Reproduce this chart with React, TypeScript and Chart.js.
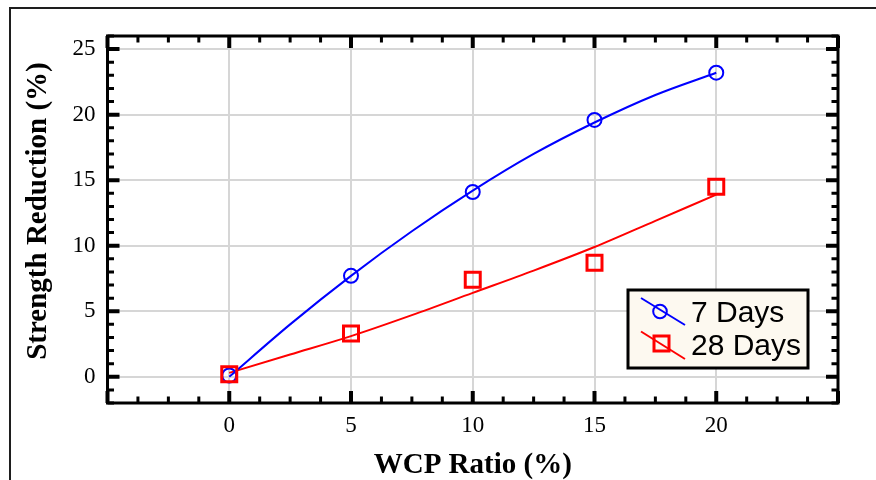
import React, { useEffect, useRef } from "react";
import { Chart, registerables } from "chart.js";

Chart.register(...registerables);

// ---- data ----
const wcpRatio = [0, 5, 10, 15, 20];
const days7 = [0.1, 7.7, 14.1, 19.6, 23.2];
const days28 = [0.2, 3.3, 7.4, 8.7, 14.5];
const fitX = [0, 2.5, 5, 7.5, 10, 12.5, 15, 17.5, 20];
const fit7 = [0.0, 4.0, 7.7, 11.1, 14.2, 17.0, 19.4, 21.5, 23.2];
const fit28 = [0.3, 1.7, 3.1, 4.7, 6.4, 8.1, 9.9, 11.9, 13.9];
const xTickLabels = [0, 5, 10, 15, 20];
const yTickLabels = [0, 5, 10, 15, 20, 25];
const seriesNames = ["7 Days", "28 Days"];
const xTitle = "WCP Ratio (%)";
const yTitle = "Strength Reduction (%)";

const BLUE = "#0000ff";
const RED = "#ff0000";
const SERIF = "'Liberation Serif', 'Times New Roman', serif";
const SANS = "'Liberation Sans', Arial, sans-serif";

const isMajor = (v: number) => Math.abs(v / 5 - Math.round(v / 5)) < 1e-6;

const framePlugin = {
  id: "frameTicks",
  afterDraw(chart: any) {
    const { ctx, chartArea: a, scales } = chart;
    const xs = scales.x;
    const ys = scales.y;
    ctx.save();
    // outer page frame (top and left lines)
    ctx.strokeStyle = "#1e1e1e";
    ctx.lineWidth = 2;
    ctx.beginPath();
    ctx.moveTo(9, 8);
    ctx.lineTo(876, 8);
    ctx.moveTo(10, 7);
    ctx.lineTo(10, 480);
    ctx.stroke();

    ctx.strokeStyle = "#000";
    // x ticks (top & bottom, inward)
    for (const t of xs.ticks) {
      const px = xs.getPixelForValue(t.value);
      const major = isMajor(t.value);
      const len = major ? 12 : 6.5;
      ctx.lineWidth = major ? 4 : 3;
      ctx.beginPath();
      ctx.moveTo(px, a.bottom);
      ctx.lineTo(px, a.bottom - len);
      ctx.moveTo(px, a.top);
      ctx.lineTo(px, a.top + len);
      ctx.stroke();
    }
    for (const t of ys.ticks) {
      const py = ys.getPixelForValue(t.value);
      const major = isMajor(t.value);
      const len = major ? 12 : 6.5;
      ctx.lineWidth = major ? 4 : 3;
      ctx.beginPath();
      ctx.moveTo(a.left, py);
      ctx.lineTo(a.left + len, py);
      ctx.moveTo(a.right, py);
      ctx.lineTo(a.right - len, py);
      ctx.stroke();
    }
    // plot frame
    ctx.lineWidth = 3;
    ctx.strokeRect(a.left, a.top, a.right - a.left, a.bottom - a.top);

    // y axis title
    ctx.save();
    ctx.translate(39, 211);
    ctx.rotate(-Math.PI / 2);
    ctx.fillStyle = "#000";
    ctx.font = `bold 29px ${SERIF}`;
    ctx.textAlign = "center";
    ctx.textBaseline = "middle";
    ctx.fillText(yTitle, 0, 0);
    ctx.restore();

    // legend
    const lx = 628, ly = 290, lw = 180, lh = 78;
    ctx.fillStyle = "#fdf9f0";
    ctx.fillRect(lx, ly, lw, lh);
    ctx.lineWidth = 3;
    ctx.strokeStyle = "#000";
    ctx.strokeRect(lx, ly, lw, lh);

    // entry 1
    ctx.lineWidth = 2;
    ctx.strokeStyle = BLUE;
    ctx.beginPath();
    ctx.moveTo(641, 298);
    ctx.lineTo(685, 325);
    ctx.stroke();
    ctx.beginPath();
    ctx.arc(660, 311.5, 6.8, 0, Math.PI * 2);
    ctx.stroke();
    // entry 2
    ctx.strokeStyle = RED;
    ctx.beginPath();
    ctx.moveTo(641, 331.5);
    ctx.lineTo(685, 359);
    ctx.stroke();
    ctx.lineWidth = 3;
    ctx.strokeRect(654, 336, 15, 15);

    ctx.fillStyle = "#000";
    ctx.font = `30px ${SANS}`;
    ctx.textAlign = "left";
    ctx.textBaseline = "alphabetic";
    ctx.fillText(seriesNames[0], 691, 322);
    ctx.fillText(seriesNames[1], 691, 355);
    ctx.restore();
  },
};

export default function App() {
  const ref = useRef<HTMLCanvasElement>(null);
  useEffect(() => {
    const chart = new Chart(ref.current as HTMLCanvasElement, {
      type: "scatter",
      data: {
        datasets: [
          {
            label: seriesNames[1],
            data: wcpRatio.map((x, i) => ({ x, y: days28[i] })),
            showLine: false,
            pointStyle: "rect",
            pointRadius: 10.6,
            pointBorderWidth: 3,
            pointBorderColor: RED,
            pointBackgroundColor: "rgba(0,0,0,0)",
            borderColor: RED,
            order: 0,
          },
          {
            label: seriesNames[0],
            data: wcpRatio.map((x, i) => ({ x, y: days7[i] })),
            showLine: false,
            pointStyle: "circle",
            pointRadius: 7,
            pointBorderWidth: 2,
            pointBorderColor: BLUE,
            pointBackgroundColor: "rgba(0,0,0,0)",
            borderColor: BLUE,
            order: 1,
          },
          {
            label: seriesNames[0] + " fit",
            data: fitX.map((x, i) => ({ x, y: fit7[i] })),
            showLine: true,
            pointRadius: 0,
            borderColor: BLUE,
            borderWidth: 2,
            cubicInterpolationMode: "monotone",
            order: 2,
          },
          {
            label: seriesNames[1] + " fit",
            data: fitX.map((x, i) => ({ x, y: fit28[i] })),
            showLine: true,
            pointRadius: 0,
            borderColor: RED,
            borderWidth: 2,
            cubicInterpolationMode: "monotone",
            order: 3,
          },
        ] as any,
      },
      options: {
        animation: false,
        responsive: false,
        layout: { padding: { left: 0, top: 36, right: 38, bottom: 0 } },
        plugins: {
          legend: { display: false },
          tooltip: { enabled: false },
        },
        scales: {
          x: {
            type: "linear",
            min: -5,
            max: 25,
            afterFit: (s: any) => {
              s.height = 77;
            },
            border: { display: false },
            grid: {
              drawTicks: false,
              lineWidth: 2,
              color: (c: any) =>
                c.tick && isMajor(c.tick.value) && c.tick.value > -5 && c.tick.value < 25
                  ? "#d6d6d6"
                  : "rgba(0,0,0,0)",
            },
            ticks: {
              stepSize: 1.25,
              autoSkip: false,
              maxRotation: 0,
              minRotation: 0,
              padding: 9,
              color: "#000",
              font: { family: SERIF, size: 23 },
              callback: (v: any) => (xTickLabels.includes(Number(v)) ? String(v) : ""),
            },
            title: {
              display: true,
              text: xTitle,
              color: "#000",
              padding: 0,
              font: { family: SERIF, size: 29, weight: "bold", lineHeight: 1 },
            },
          },
          y: {
            type: "linear",
            min: -2,
            max: 26,
            afterFit: (s: any) => {
              s.width = 107.5;
            },
            border: { display: false },
            grid: {
              drawTicks: false,
              lineWidth: 2,
              color: (c: any) =>
                c.tick && isMajor(c.tick.value) && c.tick.value >= 0 && c.tick.value <= 25
                  ? "#d6d6d6"
                  : "rgba(0,0,0,0)",
            },
            ticks: {
              stepSize: 1,
              autoSkip: false,
              padding: 12,
              color: "#000",
              font: { family: SERIF, size: 23 },
              callback: (v: any) => (yTickLabels.includes(Number(v)) ? String(v) : ""),
            },
            title: { display: false },
          },
        },
      },
      plugins: [framePlugin],
    });
    return () => chart.destroy();
  }, []);
  return (
    <div style={{ position: "absolute", left: 0, top: 0, width: 876, height: 480, background: "#fff" }}>
      <canvas ref={ref} width={876} height={480} style={{ display: "block" }} />
    </div>
  );
}
